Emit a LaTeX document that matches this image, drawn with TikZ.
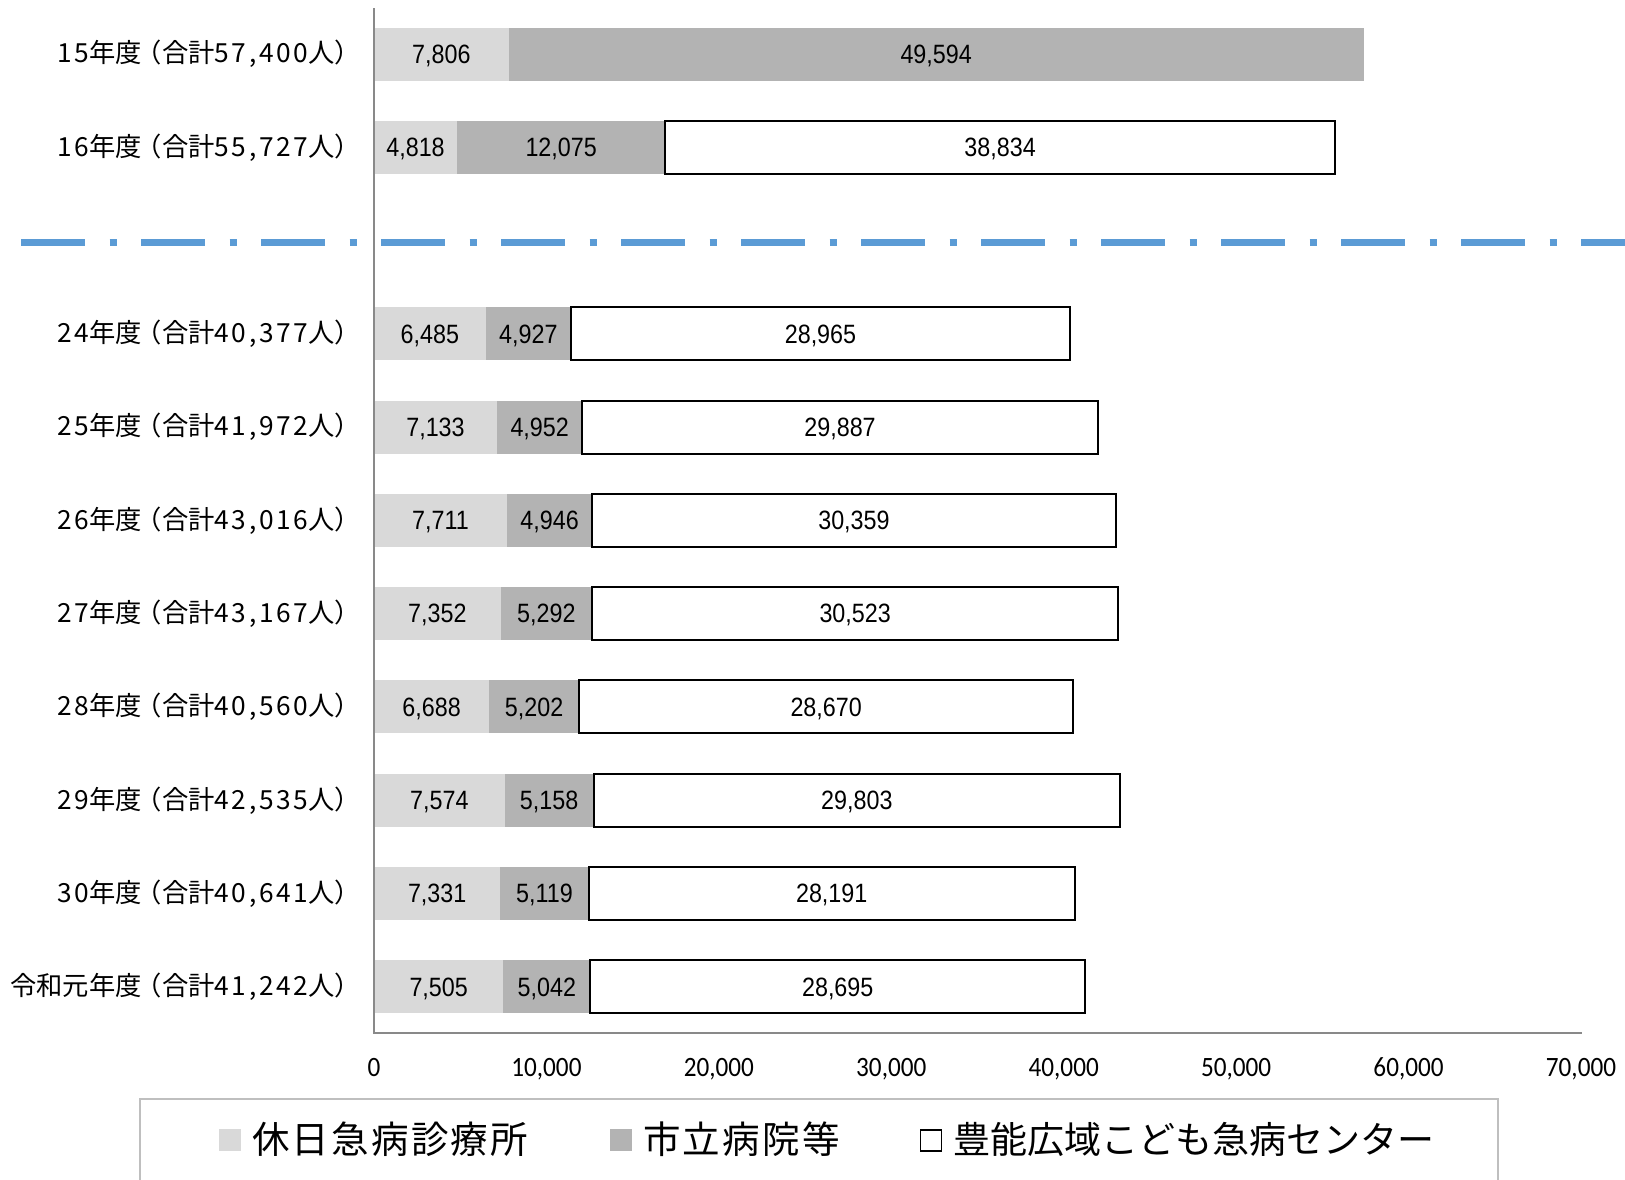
\documentclass[tikz,border=0pt]{standalone}
\usepackage{fontspec}
\setmainfont{Carlito}
\newfontfamily\jpfont{Noto Sans CJK JP}
\newfontfamily\jpdig[LetterSpace=10]{Noto Sans CJK JP}
\newfontfamily\jpleg[LetterSpace=6]{Noto Sans CJK JP}
\newfontfamily\valfont[FakeStretch=0.88]{Liberation Sans}
\newfontfamily\tickfont[FakeStretch=0.9]{Carlito}
\newcommand\dg[1]{{\jpdig #1}}
\newcommand\op{\kern-6pt（}
\newcommand\cp{）\kern-13pt}
\definecolor{lightg}{HTML}{D9D9D9}
\definecolor{midg}{HTML}{B3B3B3}
\definecolor{axisg}{HTML}{898989}
\definecolor{legg}{HTML}{BFBFBF}
\definecolor{sepblue}{HTML}{5B9BD5}
\pgfkeys{/pgf/number format/.cd,1000 sep={,},assume math mode=true}
\tikzset{
  seg/.style={anchor=west, inner sep=0pt, outer sep=0pt, minimum height=53pt, text depth=0pt, font=\valfont\fontsize{26.5}{30}\selectfont},
  whiteseg/.style={seg, fill=white, draw=black, line width=2pt},
  catlab/.style={anchor=east, inner sep=0pt, font=\jpfont\fontsize{26.3}{30}\selectfont},
  ticklab/.style={anchor=base, inner sep=0pt, font=\tickfont\fontsize{28}{30}\selectfont},
  axisline/.style={draw=axisg, line width=2pt},
  legtext/.style={anchor=west, inner sep=0pt, font=\jpleg\fontsize{37.5}{42}\selectfont},
  legsq/.style={inner sep=0pt, minimum size=22pt}
}
\begin{document}
\begin{tikzpicture}[x=1pt,y=-1pt]
\useasboundingbox (0,0) rectangle (1625,1179);
\fill[white] (0,0) rectangle (1625,1179);
\foreach \i/\lab/\a/\b/\c/\cw in {
  0/{\dg{15}年度\op 合計\dg{57,400}人\cp}/7806/49594/0/0,
  1/{\dg{16}年度\op 合計\dg{55,727}人\cp}/4818/12075/38834/38834,
  3/{\dg{24}年度\op 合計\dg{40,377}人\cp}/6485/4927/28965/28965,
  4/{\dg{25}年度\op 合計\dg{41,972}人\cp}/7133/4952/29887/29887,
  5/{\dg{26}年度\op 合計\dg{43,016}人\cp}/7711/4946/30359/30359,
  6/{\dg{27}年度\op 合計\dg{43,167}人\cp}/7352/5292/30523/30523,
  7/{\dg{28}年度\op 合計\dg{40,560}人\cp}/6688/5202/28670/28670,
  8/{\dg{29}年度\op 合計\dg{42,535}人\cp}/7574/5158/29803/30540,
  9/{\dg{30}年度\op 合計\dg{40,641}人\cp}/7331/5119/28191/28191,
  10/{令和元年度\op 合計\dg{41,242}人\cp}/7505/5042/28695/28695}{
  \pgfmathsetmacro\yy{54+93.28*\i}
  \edef\wa{\the\dimexpr 0.01725pt*\a\relax}
  \edef\wb{\the\dimexpr 0.01725pt*\b\relax}
  \edef\wc{\the\dimexpr 0.01725pt*\cw\relax}
  \node[catlab] (l\i) at (348,\yy) {\lab};
  \node[seg, fill=lightg, minimum width=\wa] (a\i) at (374,\yy) {\pgfmathprintnumber{\a}};
  \node[seg, fill=midg, minimum width=\wb] (b\i) at (a\i.east) {\pgfmathprintnumber{\b}};
  \ifnum\c>0
    \node[whiteseg, minimum width=\wc] (c\i) at (b\i.east) {\pgfmathprintnumber{\c}};
  \fi
}
% separator
\coordinate (s1) at (21,242);
\coordinate (s2) at (1625,242);
\draw[sepblue, line width=7pt, dash pattern=on 64pt off 24.5pt on 7.5pt off 24pt] (s1) -- (s2);
% axes
\coordinate (ax0) at (374,8);
\coordinate (ax1) at (374,1033);
\coordinate (ax2) at (1582,1033);
\draw[axisline] (ax0) -- (ax1) -- (ax2);
\foreach \v/\t in {0/0,10000/{10,000},20000/{20,000},30000/{30,000},40000/{40,000},50000/{50,000},60000/{60,000},70000/{70,000}}{
  \edef\xx{\the\dimexpr 374pt+0.01725pt*\v\relax}
  \node[ticklab] (t\v) at (\xx,1076.5) {\t};
}
% legend
\coordinate (lg1) at (140,1185);
\coordinate (lg2) at (140,1099);
\coordinate (lg3) at (1498,1099);
\coordinate (lg4) at (1498,1185);
\draw[legg, line width=2pt] (lg1) -- (lg2) -- (lg3) -- (lg4);
\node[legsq, fill=lightg] (q1) at (229.5,1140) {};
\node[legtext] (m1) at (252,1139) {休日急病診療所};
\node[legsq, fill=midg] (q2) at (620.5,1140) {};
\node[legtext] (m2) at (643,1139) {市立病院等};
\node[legsq, fill=white, draw=black, line width=1.8pt, minimum size=21pt] (q3) at (931,1140.5) {};
\node[legtext, font=\jpfont\fontsize{37}{42}\selectfont] (m3) at (953,1139) {豊能広域こども急病センター};
\end{tikzpicture}
\end{document}
